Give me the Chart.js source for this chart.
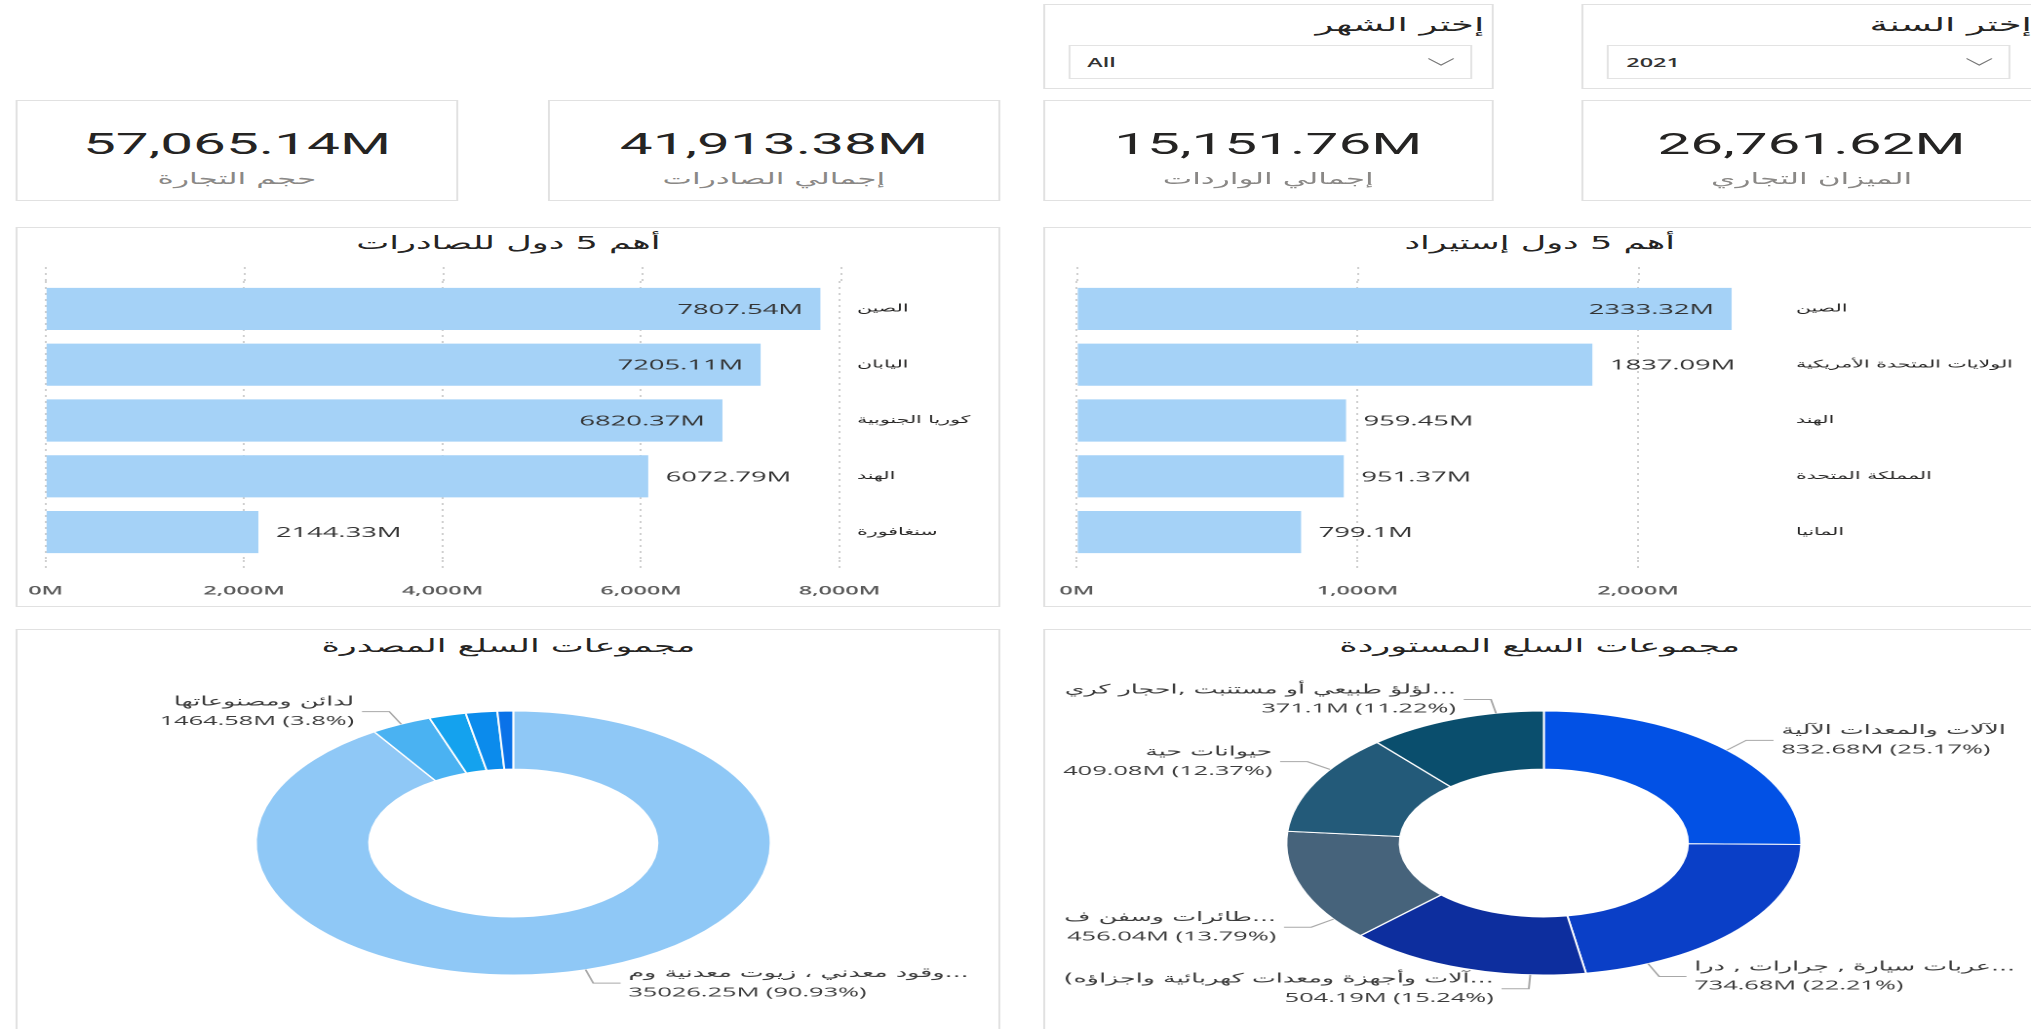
<!DOCTYPE html>
<html lang="ar">
<head>
<meta charset="utf-8">
<script src="https://cdn.jsdelivr.net/npm/chart.js@4.4.1/dist/chart.umd.min.js"></script>
<style>
html,body{margin:0;padding:0;background:#fff;overflow:hidden;width:2031px;height:1029px;}
#stage{position:absolute;left:0;top:0;width:1042px;height:1029px;transform:scaleX(1.95);transform-origin:0 0;}
.box{position:absolute;box-sizing:border-box;border:1px solid #e1e1e1;background:#fff;}
.ar{font-family:"DejaVu Sans",sans-serif;direction:rtl;}
.slTitle{position:absolute;right:4px;top:5px;height:28px;font-size:19px;line-height:28px;color:#252423;white-space:nowrap;}
.dd{position:absolute;left:12px;top:40px;width:207px;height:34px;box-sizing:border-box;border:1px solid #e3e3e3;display:flex;align-items:center;}
.ddVal{margin-left:9px;font:600 12px "Open Sans",sans-serif;color:#333;}
.chev{position:absolute;right:8px;top:12px;width:14px;height:8px;}
.kNum{position:absolute;left:0;right:0;top:24px;height:38px;text-align:center;font:400 30px Roboto,sans-serif;line-height:38px;color:#252423;white-space:nowrap;}
.kLab{position:absolute;left:0;right:0;top:67px;height:22px;text-align:center;font-size:16px;line-height:22px;color:#8a8886;white-space:nowrap;}
.pTitle{position:absolute;left:0;right:0;height:22px;text-align:center;font-size:18px;line-height:22px;color:#252423;white-space:nowrap;}
.cv{position:absolute;}
</style>
</head>
<body>
<div id="stage"></div>
<script>
// ---------- data ----------
const slicerTitles = ['إختر الشهر', 'إختر السنة'];
const slicerValues = ['All', '2021'];
const kpiValues = [57065.14, 41913.38, 15151.76, 26761.62];
const kpiLabels = ['حجم التجارة', 'إجمالي الصادرات', 'إجمالي الواردات', 'الميزان التجاري'];
const exportTitle = 'أهم 5 دول للصادرات';
const exportCountries = ['الصين', 'اليابان', 'كوريا الجنوبية', 'الهند', 'سنغافورة'];
const exportValues = [7807.54, 7205.11, 6820.37, 6072.79, 2144.33];
const exportTicks = [0, 2000, 4000, 6000, 8000];
const exportAxisMax = 8000;
const importTitle = 'أهم 5 دول إستيراد';
const importCountries = ['الصين', 'الولايات المتحدة الأمريكية', 'الهند', 'المملكة المتحدة', 'المانيا'];
const importValues = [2333.32, 1837.09, 959.45, 951.37, 799.1];
const importTicks = [0, 1000, 2000];
const importAxisMax = 2500;
const exportGroupsTitle = 'مجموعات السلع المصدرة';
const exportGroups = ['...وقود معدني ، زيوت معدنية وم', 'لدائن ومصنوعاتها', 'منتجات كيماوية عضوية', 'أسمدة', 'ألومنيوم ومصنوعاته'];
const exportGroupValues = [35026.25, 1464.58, 890, 760, 380];
const importGroupsTitle = 'مجموعات السلع المستوردة';
const importGroups = ['الآلات والمعدات الآلية', '...عربات سيارة , جرارات , درا', '...آلات وأجهزة ومعدات كهربائية واجزاؤه)', '...طائرات وسفن ف', 'حيوانات حية', '...لؤلؤ طبيعي أو مستنبت ,احجار كري'];
const importGroupValues = [832.68, 734.68, 504.19, 456.04, 409.08, 371.1];

// ---------- styles ----------
const barColor = '#A5D2F7';
const exportGroupColors = ['#8FC8F6', '#4AB2F2', '#14A2EE', '#0B8BEC', '#0A72E8'];
const importGroupColors = ['#0251E5', '#0A3FC7', '#0D2E9E', '#46637B', '#235A79', '#0A4E6D'];
const SX = 1.95;
const visibleWidth = 2031 / SX;

const stage = document.getElementById('stage');
function el(tag, cls, style, text) {
  const e = document.createElement(tag);
  if (cls) e.className = cls;
  if (style) Object.assign(e.style, style);
  if (text !== undefined) e.textContent = text;
  return e;
}
function px(v) { return v + 'px'; }

// slicers
const slicerBoxes = [{left: 534.6, width: 231.6}, {left: 811, width: 236}];
slicerBoxes.forEach((b, i) => {
  const box = el('div', 'box', {left: px(b.left), top: '4px', width: px(b.width), height: '85px'});
  box.appendChild(el('div', 'slTitle ar', null, slicerTitles[i]));
  const dd = el('div', 'dd');
  dd.appendChild(el('div', 'ddVal', null, slicerValues[i]));
  dd.insertAdjacentHTML('beforeend', '<svg class="chev" viewBox="0 0 14 8"><polyline points="0.5,0.5 7,7 13.5,0.5" fill="none" stroke="#777" stroke-width="1"/></svg>');
  box.appendChild(dd);
  stage.appendChild(box);
});

// KPI cards
const kpiBoxes = [{left: 8.2, width: 226.7}, {left: 280.5, width: 232.8}, {left: 534.6, width: 231.6}, {left: 811, width: 236}];
kpiBoxes.forEach((b, i) => {
  const box = el('div', 'box', {left: px(b.left), top: '100px', width: px(b.width), height: '101px'});
  box.appendChild(el('div', 'kNum', null, kpiValues[i].toLocaleString('en-US', {minimumFractionDigits: 2, maximumFractionDigits: 2}) + 'M'));
  box.appendChild(el('div', 'kLab ar', null, kpiLabels[i]));
  stage.appendChild(box);
});

// panels
const panelCols = [{left: 8.2, width: 505.1}, {left: 534.6, width: 510}];
function panel(col, top, height, title, titleTop) {
  const box = el('div', 'box', {left: px(col.left), top: px(top), width: px(col.width), height: px(height)});
  box.appendChild(el('div', 'pTitle ar', {top: px(titleTop)}, title));
  stage.appendChild(box);
  const wrap = el('div', 'cv', {left: px(col.left), top: px(top), width: px(col.width), height: px(height)});
  const c = document.createElement('canvas');
  wrap.appendChild(c);
  stage.appendChild(wrap);
  return c;
}

const latin = '"Open Sans", "DejaVu Sans", sans-serif';
const gridColor = '#cfcfcf';
const gridDash = [2, 4];

const barValueLabels = {
  id: 'barValueLabels',
  afterDatasetsDraw(chart) {
    const {ctx, chartArea} = chart;
    const meta = chart.getDatasetMeta(0);
    const data = chart.data.datasets[0].data;
    ctx.save();
    ctx.font = '14px ' + latin;
    ctx.fillStyle = '#333333';
    ctx.textBaseline = 'middle';
    meta.data.forEach((bar, i) => {
      const txt = data[i] + 'M';
      const w = ctx.measureText(txt).width;
      const pad = 9;
      if (bar.x + pad + w <= chartArea.right) {
        ctx.textAlign = 'left';
        ctx.fillText(txt, bar.x + pad, bar.y + 1);
      } else {
        ctx.textAlign = 'right';
        ctx.fillText(txt, bar.x - pad, bar.y + 1);
      }
    });
    ctx.restore();
  }
};

// extends the value-axis grid lines a little above the plot area
const gridTopExtension = {
  id: 'gridTopExtension',
  beforeDatasetsDraw(chart, args, opts) {
    const {ctx, chartArea} = chart;
    const xs = chart.scales.x;
    ctx.save();
    ctx.strokeStyle = gridColor;
    ctx.lineWidth = 1;
    ctx.setLineDash(gridDash);
    xs.ticks.forEach(t => {
      const x = Math.round(xs.getPixelForValue(t.value)) + 0.5;
      ctx.beginPath();
      ctx.moveTo(x, chartArea.top - opts.extent);
      ctx.lineTo(x, chartArea.top);
      ctx.stroke();
    });
    ctx.restore();
  }
};

function barChart(canvas, labels, values, axisMax, tickValues, area) {
  return new Chart(canvas, {
    type: 'bar',
    data: {labels, datasets: [{data: values, backgroundColor: barColor, barPercentage: 0.755, categoryPercentage: 1}]},
    options: {
      indexAxis: 'y', responsive: true, maintainAspectRatio: false, animation: false, devicePixelRatio: 2,
      layout: {padding: {left: area.left, top: area.top, right: 0, bottom: 0}},
      plugins: {legend: {display: false}, tooltip: {enabled: false}, gridTopExtension: {extent: 14}},
      scales: {
        x: {
          min: 0, max: axisMax,
          afterBuildTicks: s => { s.ticks = tickValues.map(v => ({value: v})); },
          afterFit: s => { s.height = area.xh; s.paddingLeft = 0; s.paddingRight = 0; },
          ticks: {padding: 16, color: '#5a5a5a', font: {family: latin, size: 12, weight: '600'},
                  callback: v => v.toLocaleString('en-US') + 'M', maxRotation: 0, autoSkip: false},
          grid: {color: gridColor, lineWidth: 1, drawTicks: true, tickLength: 8, tickColor: gridColor, tickBorderDash: gridDash},
          border: {display: false, dash: gridDash}
        },
        y: {
          position: 'right',
          afterFit: s => { s.width = area.yw; s.paddingTop = 0; s.paddingBottom = 0; },
          ticks: {padding: 9, crossAlign: 'near', color: '#252423', font: {family: '"DejaVu Sans", sans-serif', size: 10.5}},
          grid: {display: false, drawTicks: false},
          border: {display: false}
        }
      }
    },
    plugins: [gridTopExtension, barValueLabels]
  });
}

const cExp = panel(panelCols[0], 227, 380, exportTitle, 4);
barChart(cExp, exportCountries, exportValues, exportAxisMax, exportTicks, {left: 15.4, top: 54, yw: 505.1 - 422.5, xh: 47});
const cImp = panel(panelCols[1], 227, 380, importTitle, 4);
barChart(cImp, importCountries, importValues, importAxisMax, importTicks, {left: 17.2, top: 54, yw: 510 - 377, xh: 47});

const donutLabels = {
  id: 'donutLabels',
  afterDatasetsDraw(chart, args, opts) {
    const {ctx} = chart;
    const meta = chart.getDatasetMeta(0);
    const ds = chart.data.datasets[0];
    const total = ds.data.reduce((a, b) => a + b, 0);
    const arFont = '13px "DejaVu Sans", sans-serif';
    const numFont = '13px ' + latin;
    ctx.save();
    meta.data.forEach((arc, i) => {
      const v = ds.data[i];
      const pct = v / total * 100;
      if (pct < opts.minPct) return;
      const p = arc.getProps(['x', 'y', 'startAngle', 'endAngle', 'outerRadius'], true);
      const R = p.outerRadius;
      const name = chart.data.labels[i];
      let pctStr = String(+pct.toFixed(2));
      let num = v + 'M (' + pctStr + '%)';
      ctx.font = arFont; const w1 = ctx.measureText(name).width;
      ctx.font = numFont; const w2 = ctx.measureText(num).width;
      const w = Math.max(w1, w2);
      const geom = a => {
        const cos = Math.cos(a), sin = Math.sin(a);
        const side = cos >= 0 ? 1 : -1;
        const ex = p.x + cos * (R + opts.elbow), ey = p.y + sin * (R + opts.elbow);
        const hx = ex + side * opts.run;
        const tx = hx + side * opts.gap;
        const fits = side > 0 ? tx + w <= opts.rightLimit : tx - w >= opts.leftLimit;
        return {a, cos, sin, side, ex, ey, hx, tx, fits};
      };
      // move the label angle toward the nearest pole of the ring, inside the slice, until the text fits
      const mid = (p.startAngle + p.endAngle) / 2;
      const poles = [-Math.PI / 2, Math.PI / 2, 3 * Math.PI / 2];
      let pole = poles[0];
      poles.forEach(q => { if (Math.abs(q - mid) < Math.abs(pole - mid)) pole = q; });
      const dir = Math.sign(pole - mid);
      const span = p.endAngle - p.startAngle;
      const lim = dir > 0 ? p.endAngle - span * 0.08 : p.startAngle + span * 0.08;
      let g = geom(mid);
      const step = Math.PI / 360;
      while (!g.fits) {
        const na = g.a + dir * step;
        if ((dir > 0 && na > lim) || (dir < 0 && na < lim) || dir === 0) break;
        g = geom(na);
      }
      const ax = p.x + g.cos * R, ay = p.y + g.sin * R;
      ctx.strokeStyle = '#a8a8a8';
      ctx.lineWidth = 1;
      ctx.beginPath(); ctx.moveTo(ax, ay); ctx.lineTo(g.ex, g.ey); ctx.lineTo(g.hx, g.ey); ctx.stroke();
      ctx.textAlign = g.side > 0 ? 'left' : 'right';
      ctx.textBaseline = 'middle';
      ctx.fillStyle = '#3b3b3b';
      ctx.direction = 'rtl';
      ctx.font = arFont;
      ctx.fillText(name, g.tx, g.ey - opts.lineGap / 2);
      ctx.direction = 'ltr';
      ctx.font = numFont;
      const avail = g.side > 0 ? opts.rightLimit - g.tx : g.tx - opts.leftLimit;
      if (ctx.measureText(num).width > avail) {
        while (pctStr.length > 0 && ctx.measureText(v + 'M (' + pctStr + '...)').width > avail) pctStr = pctStr.slice(0, -1);
        num = v + 'M (' + pctStr + '...)';
      }
      ctx.fillText(num, g.tx, g.ey + opts.lineGap / 2);
    });
    ctx.restore();
  }
};

function donut(canvas, labels, values, colors, cx, cy, r, w, h, rightLimit) {
  return new Chart(canvas, {
    type: 'doughnut',
    data: {labels, datasets: [{data: values, backgroundColor: colors, borderColor: '#ffffff', borderWidth: 1}]},
    options: {
      responsive: true, maintainAspectRatio: false, animation: false, devicePixelRatio: 2,
      radius: r, cutout: '56%',
      layout: {padding: {left: cx - r, top: cy - r, right: w - cx - r, bottom: h - cy - r}},
      plugins: {legend: {display: false}, tooltip: {enabled: false},
                donutLabels: {minPct: 3, elbow: 14, run: 14, gap: 4, lineGap: 19, leftLimit: 10, rightLimit: rightLimit}}
    },
    plugins: [donutLabels]
  });
}

const cEg = panel(panelCols[0], 629, 410, exportGroupsTitle, 5);
donut(cEg, exportGroups, exportGroupValues, exportGroupColors, 255.2, 214, 132, 505.1, 410, 505.1 - 10);
const cIg = panel(panelCols[1], 629, 410, importGroupsTitle, 5);
donut(cIg, importGroups, importGroupValues, importGroupColors, 256.7, 214, 132, 510, 410, visibleWidth - panelCols[1].left - 8);
</script>
</body>
</html>
